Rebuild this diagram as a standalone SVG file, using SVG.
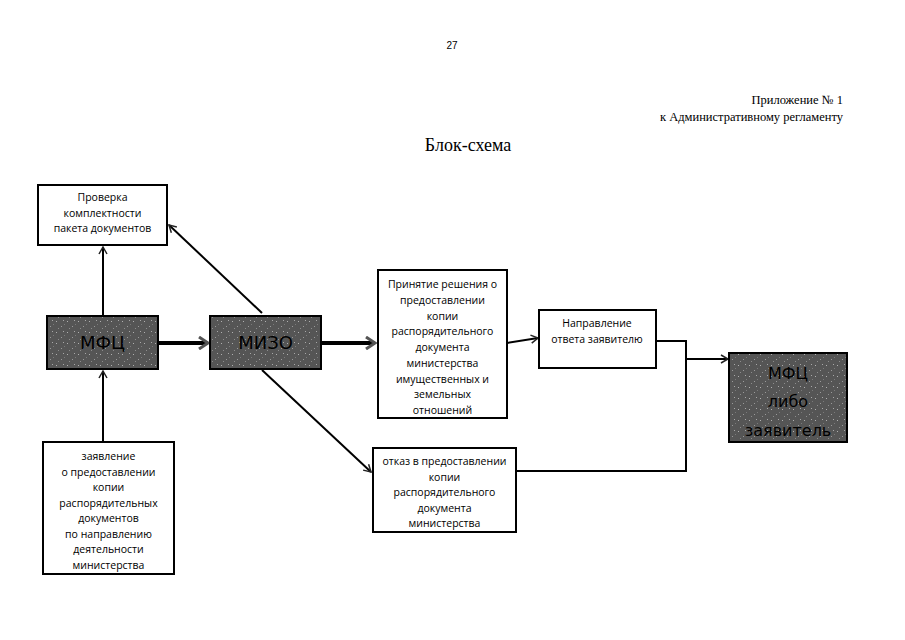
<svg xmlns="http://www.w3.org/2000/svg" width="905" height="640" viewBox="0 0 905 640">
<style>
.bg{fill:#ffffff}
.box{fill:#ffffff;stroke:#000;stroke-width:2}
.dark{fill:url(#speck);stroke:#000;stroke-width:2}
.t{font-family:"Open Sans","Liberation Sans",Arial,sans-serif;font-size:10.5px;fill:#000;text-anchor:middle}
.big{font-family:"DejaVu Sans",Verdana,sans-serif;font-size:18px;fill:#000;text-anchor:middle}
.big2{font-family:"DejaVu Sans",Verdana,sans-serif;font-size:16px;fill:#000;text-anchor:middle}
.serif{font-family:"Liberation Serif","Times New Roman",serif;fill:#000}
.ln{fill:none;stroke:#000;stroke-width:2}
.thick{fill:none;stroke:#000;stroke-width:4}
</style>
<defs>
<pattern id="speck" width="11" height="11" patternUnits="userSpaceOnUse">
<rect width="11" height="11" fill="#555555"/>
<rect x="1" y="2" width="1" height="1" fill="#b0b0b0"/>
<rect x="6" y="7" width="1" height="1" fill="#9a9a9a"/>
<rect x="8" y="1" width="1" height="1" fill="#a8a8a8"/>
<rect x="3" y="9" width="1" height="1" fill="#8c8c8c"/>
<rect x="9" y="5" width="1" height="1" fill="#7a7a7a"/>
</pattern>
<marker id="ah" markerWidth="10" markerHeight="10" refX="8" refY="5" orient="auto" markerUnits="userSpaceOnUse">
<polyline points="1,1 8,5 1,9" fill="none" stroke="#222" stroke-width="1.5"/>
</marker>
<marker id="ahb" markerWidth="14" markerHeight="14" refX="11" refY="7" orient="auto" markerUnits="userSpaceOnUse">
<polyline points="2,1 11,7 2,13" fill="none" stroke="#555" stroke-width="3"/>
</marker>
</defs>
<rect class="bg" x="0" y="0" width="905" height="640"/>

<g id="header">
<text x="452" y="49" font-family="Liberation Sans,Arial,sans-serif" font-size="10" text-anchor="middle">27</text>
<text class="serif" x="843" y="104" font-size="12.5" text-anchor="end">Приложение № 1</text>
<text class="serif" x="843" y="121" font-size="12.5" text-anchor="end">к Административному регламенту</text>
<text class="serif" x="468" y="151" font-size="18" text-anchor="middle">Блок-схема</text>
</g>

<g id="connectors">
<line class="ln" x1="103" y1="316" x2="103" y2="247" marker-end="url(#ah)"/>
<line class="ln" x1="103" y1="442" x2="103" y2="371" marker-end="url(#ah)"/>
<line class="thick" x1="158" y1="343" x2="208" y2="343" marker-end="url(#ahb)"/>
<line class="thick" x1="321" y1="343" x2="375" y2="343" marker-end="url(#ahb)"/>
<line class="ln" x1="262" y1="313" x2="169" y2="225" marker-end="url(#ah)"/>
<line class="ln" x1="262" y1="370" x2="371" y2="472" marker-end="url(#ah)"/>
<line class="ln" x1="507" y1="343" x2="538" y2="338" marker-end="url(#ah)"/>
<polyline class="ln" points="656,341 686,341 686,471 516,471"/>
<line class="ln" x1="686" y1="359" x2="728" y2="359" marker-end="url(#ah)"/>
</g>

<g id="node-proverka">
<rect class="box" x="38" y="185" width="129" height="60"/>
<text class="t" x="102.5" y="201">Проверка</text>
<text class="t" x="102.5" y="217">комплектности</text>
<text class="t" x="102.5" y="232">пакета документов</text>
</g>

<g id="node-mfc">
<rect class="dark" x="47" y="316" width="111" height="53"/>
<text class="big" x="102.5" y="349">МФЦ</text>
</g>

<g id="node-mizo">
<rect class="dark" x="210" y="316" width="111" height="53"/>
<text class="big" x="265.5" y="349">МИЗО</text>
</g>

<g id="node-zayavlenie">
<rect class="box" x="43" y="442" width="131" height="132"/>
<text class="t" x="108.5" y="460">заявление</text>
<text class="t" x="108.5" y="475.5">о предоставлении</text>
<text class="t" x="108.5" y="491">копии</text>
<text class="t" x="108.5" y="506.5">распорядительных</text>
<text class="t" x="108.5" y="522">документов</text>
<text class="t" x="108.5" y="537.5">по направлению</text>
<text class="t" x="108.5" y="553">деятельности</text>
<text class="t" x="108.5" y="568.5">министерства</text>
</g>

<g id="node-prinyatie">
<rect class="box" x="378" y="270" width="129" height="148"/>
<text class="t" x="442.5" y="288">Принятие решения о</text>
<text class="t" x="442.5" y="303.75">предоставлении</text>
<text class="t" x="442.5" y="319.5">копии</text>
<text class="t" x="442.5" y="335.25">распорядительного</text>
<text class="t" x="442.5" y="351">документа</text>
<text class="t" x="442.5" y="366.75">министерства</text>
<text class="t" x="442.5" y="382.5">имущественных и</text>
<text class="t" x="442.5" y="398.25">земельных</text>
<text class="t" x="442.5" y="414">отношений</text>
</g>

<g id="node-napravlenie">
<rect class="box" x="539" y="310" width="117" height="58"/>
<text class="t" x="597" y="327">Направление</text>
<text class="t" x="597" y="343">ответа заявителю</text>
</g>

<g id="node-otkaz">
<rect class="box" x="373" y="448" width="143" height="84"/>
<text class="t" x="444.5" y="465">отказ в предоставлении</text>
<text class="t" x="444.5" y="481">копии</text>
<text class="t" x="444.5" y="496">распорядительного</text>
<text class="t" x="444.5" y="512">документа</text>
<text class="t" x="444.5" y="527">министерства</text>
</g>

<g id="node-mfc-zayavitel">
<rect class="dark" x="729" y="353" width="118" height="89"/>
<text class="big2" x="788" y="379">МФЦ</text>
<text class="big2" x="788" y="407">либо</text>
<text class="big2" x="788" y="436">заявитель</text>
</g>
</svg>
